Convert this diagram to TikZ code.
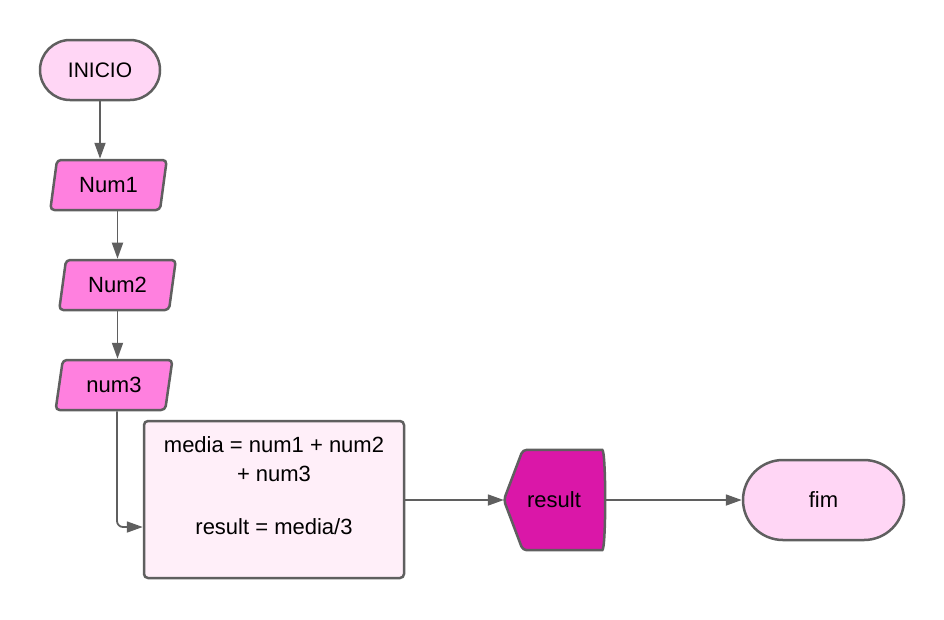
\documentclass[tikz,border=0pt]{standalone}
\usepackage{fontspec}
\setmainfont{Liberation Sans}
\usetikzlibrary{shapes.geometric,arrows.meta,backgrounds}

\definecolor{borda}{HTML}{5F5F5F}
\definecolor{rosaclaro}{HTML}{FFD6F5}
\definecolor{rosa}{HTML}{FF80DF}
\definecolor{rosafundo}{HTML}{FFEFF9}
\definecolor{magentaforte}{HTML}{DA17A8}

\begin{document}
\begin{tikzpicture}[x=1pt, y=-1pt, line join=round,
  font=\fontsize{22}{29}\selectfont,
  terminal/.style={draw=borda, line width=2.5pt, fill=rosaclaro, rectangle, inner sep=0pt},
  entrada/.style={draw=borda, line width=2.5pt, fill=rosa, trapezium, trapezium left angle=76,
    trapezium right angle=104, trapezium stretches=true, rounded corners=4pt,
    minimum width=117pt, minimum height=50pt, inner sep=0pt},
  processo/.style={draw=borda, line width=2.5pt, fill=rosafundo, rectangle, rounded corners=4pt,
    minimum width=260pt, minimum height=157pt, inner sep=0pt},
  seta/.style={draw=borda, line width=1.8pt, -{Triangle[length=16pt,width=11pt]}}]

  %% ════ canvas ════
  \useasboundingbox (0,0) rectangle (944,619);

  %% ════ nodes ════
  \node[terminal, rounded corners=30pt, minimum width=120pt, minimum height=60pt,
    font=\fontsize{21}{29}\selectfont] (inicio) at (100,70) {INICIO};
  \node[entrada] (num1) at (108.5,185) {Num1};
  \node[entrada] (num2) at (117.5,285) {Num2};
  \node[entrada] (num3) at (114,385) {num3};
  \node[processo] (calc) at (274,499.5) {};
  \node[align=center, inner sep=0pt] (calctxt) at (274,486) {media = num1 + num2\\+ num3\\[24pt]result = media/3};
  \node[minimum width=100pt, minimum height=100pt, inner sep=0pt] (result) at (554,500) {result};
  \node[terminal, rounded corners=40pt, minimum width=161pt, minimum height=80pt] (fim) at (823.5,500) {fim};

  %% display shape behind the text of result
  \begin{scope}[on background layer]
    \filldraw[draw=borda, line width=2.5pt, fill=magentaforte, rounded corners=4pt]
      (result.west) -- ([xshift=19pt]result.north west) -- ([xshift=-6pt]result.north east)
      .. controls ([xshift=2pt]result.north east) and ([xshift=2pt]result.south east) .. ([xshift=-6pt]result.south east)
      -- ([xshift=19pt]result.south west) -- cycle;
  \end{scope}

  %% ════ connectors ════
  \draw[seta] (inicio.south) -- (inicio.south |- num1.north);
  \draw[seta] (num1.south -| num2.north) -- (num2.north);
  \draw[seta] (num2.south) -- (num2.south |- num3.north);
  \draw[seta, rounded corners=6pt] ([xshift=3pt]num3.south) |- ([yshift=-27.5pt]calc.west);
  \draw[seta] (calc.east |- result.west) -- (result.west);
  \draw[seta] (result.east) -- (fim.west);
\end{tikzpicture}
\end{document}
